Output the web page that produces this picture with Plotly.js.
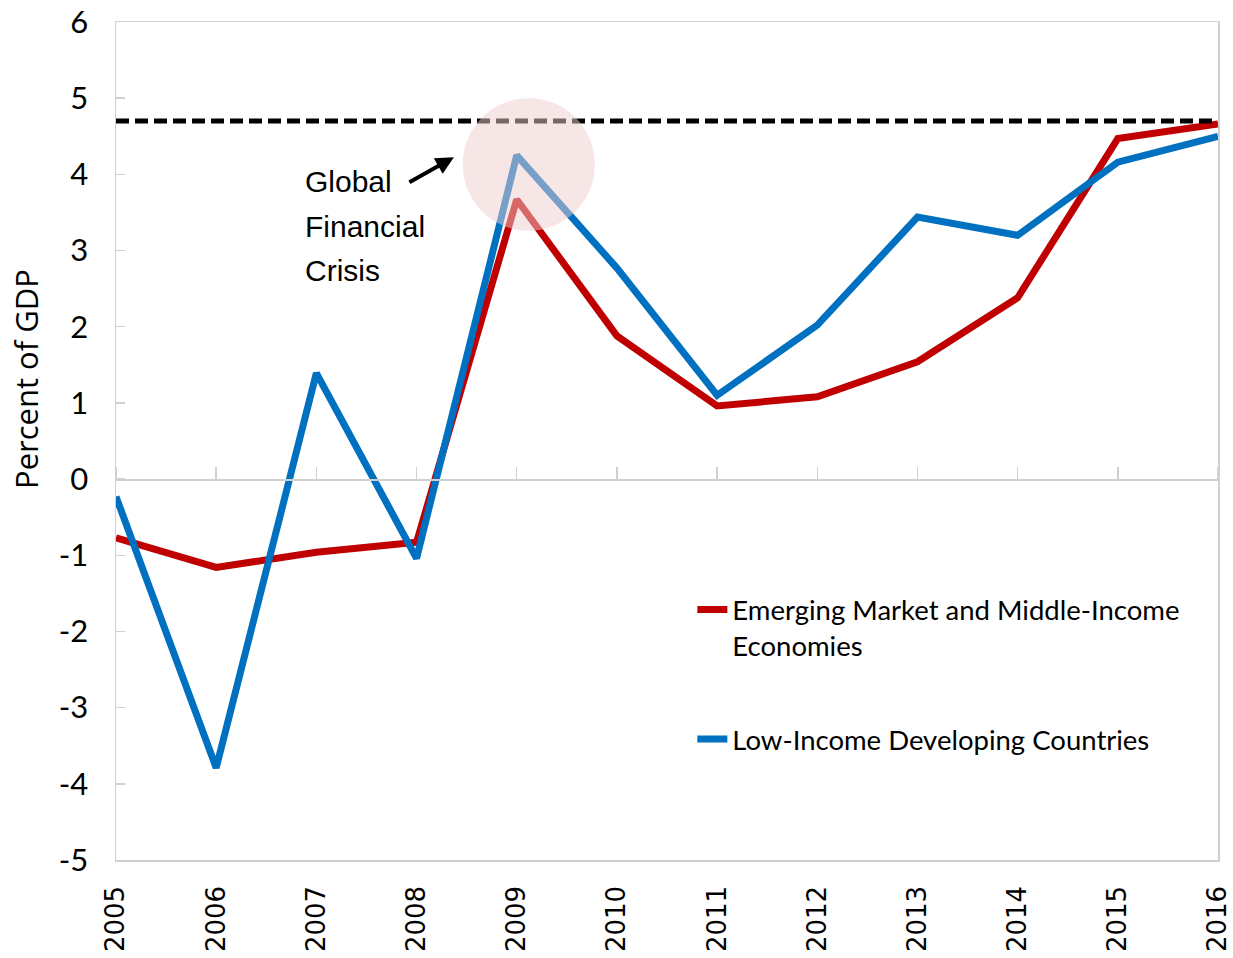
<!DOCTYPE html>
<html>
<head>
<meta charset="utf-8">
<script src="https://cdn.plot.ly/plotly-3.0.1.min.js"></script>
<style>html,body{margin:0;padding:0;background:#fff;}#chart{width:1233px;height:958px;}</style>
</head>
<body>
<div id="chart"></div>
<script>
var years = [2005, 2006, 2007, 2008, 2009, 2010, 2011, 2012, 2013, 2014, 2015, 2016];
var yearLabels = ["2005","2006","2007","2008","2009","2010","2011","2012","2013","2014","2015","2016"];
var emmie = [-0.77, -1.16, -0.96, -0.83, 3.67, 1.88, 0.96, 1.08, 1.54, 2.38, 4.47, 4.66];
var lidc = [-0.23, -3.79, 1.39, -1.04, 4.25, 2.77, 1.10, 2.02, 3.44, 3.20, 4.16, 4.50];
var refX = [2005, 2016];
var refY = [4.7, 4.7];
var yTickVals = [-5, -4, -3, -2, -1, 0, 1, 2, 3, 4, 5, 6];
var yTickText = ["-5", "-4", "-3", "-2", "-1", "0", "1", "2", "3", "4", "5", "6"];
var seriesNames = ["Emerging Market and Middle-Income<br>Economies", "Low-Income Developing Countries"];
var crisisLines = ["Global", "Financial", "Crisis"];
var crisisY = [3.9, 3.32, 2.74];

var lblFont = "Lato, 'Open Sans', sans-serif";
var gray = "#d0d0d0";

var traces = [
  {x: years, y: emmie, type: "scatter", mode: "lines", name: seriesNames[0],
   line: {color: "#c00000", width: 7}, legendgroup: "a"},
  {x: years, y: lidc, type: "scatter", mode: "lines", name: seriesNames[1],
   line: {color: "#0070c0", width: 7}, legendgroup: "b"},
  {x: refX, y: refY, type: "scatter", mode: "lines", xaxis: "x2", showlegend: false,
   line: {color: "#000000", width: 5, dash: "13px,6px"}}
];

var annotations = [
  {x: 2008.373, y: 4.226, ax: 2007.914, ay: 3.885, xref: "x", yref: "y", axref: "x", ayref: "y",
   text: "", showarrow: true, arrowhead: 2, arrowsize: 0.9, arrowwidth: 4, arrowcolor: "#000"},
  {xref: "paper", yref: "paper", x: 0, y: (860 - 379) / 838, xshift: -90, xanchor: "center", yanchor: "middle",
   text: "Percent of GDP", textangle: -90, showarrow: false,
   font: {family: "'Open Sans', sans-serif", size: 31, color: "#000"}}
];
for (var i = 0; i < crisisLines.length; i++) {
  annotations.push({xref: "x", yref: "y", x: 2006.87, y: crisisY[i], xanchor: "left", yanchor: "middle",
    text: crisisLines[i], showarrow: false,
    font: {family: "'Liberation Sans Narrow', 'Liberation Sans', Arial, sans-serif", size: 30, color: "#000"}});
}

var layout = {
  width: 1233, height: 958,
  margin: {l: 116, r: 15, t: 22, b: 98},
  paper_bgcolor: "#fff", plot_bgcolor: "#fff",
  showlegend: true,
  legend: {x: 0.523, y: 0.328, xanchor: "left", yanchor: "top", valign: "top",
    tracegroupgap: 55, bgcolor: "rgba(0,0,0,0)",
    font: {family: lblFont, size: 27.5, color: "#000"}},
  xaxis: {range: [2005, 2016], tickvals: years, ticktext: yearLabels, tickangle: -90,
    ticks: "", showgrid: false, zeroline: false, showline: true, linecolor: gray, linewidth: 1.5, mirror: true,
    ticklabelstandoff: 14,
    tickfont: {family: "'DejaVu Sans', Verdana, sans-serif", size: 26, color: "#000"}},
  xaxis2: {range: [2005, 2016], overlaying: "x", anchor: "free", position: 5 / 11, side: "top",
    tickvals: years, showticklabels: false, ticks: "outside", ticklen: 12, tickcolor: gray, tickwidth: 1.5,
    showgrid: false, zeroline: false, showline: true, linecolor: gray, linewidth: 1.5},
  yaxis: {range: [-5, 6], tickvals: yTickVals, ticktext: yTickText, ticks: "inside", ticklen: 9,
    tickcolor: gray, tickwidth: 1.5, showgrid: false, zeroline: false, showline: true, linecolor: gray,
    linewidth: 1.5, mirror: true, ticklabelstandoff: 20,
    tickfont: {family: lblFont, size: 31, color: "#000"}},
  shapes: [
    {type: "circle", xref: "x", yref: "y", x0: 2008.46, x1: 2009.78, y0: 3.26, y1: 5.0,
     fillcolor: "rgba(240,205,205,0.5)", line: {width: 0}, layer: "above"}
  ],
  annotations: annotations
};

Plotly.newPlot("chart", traces, layout, {displayModeBar: false, staticPlot: true});
</script>
</body>
</html>
